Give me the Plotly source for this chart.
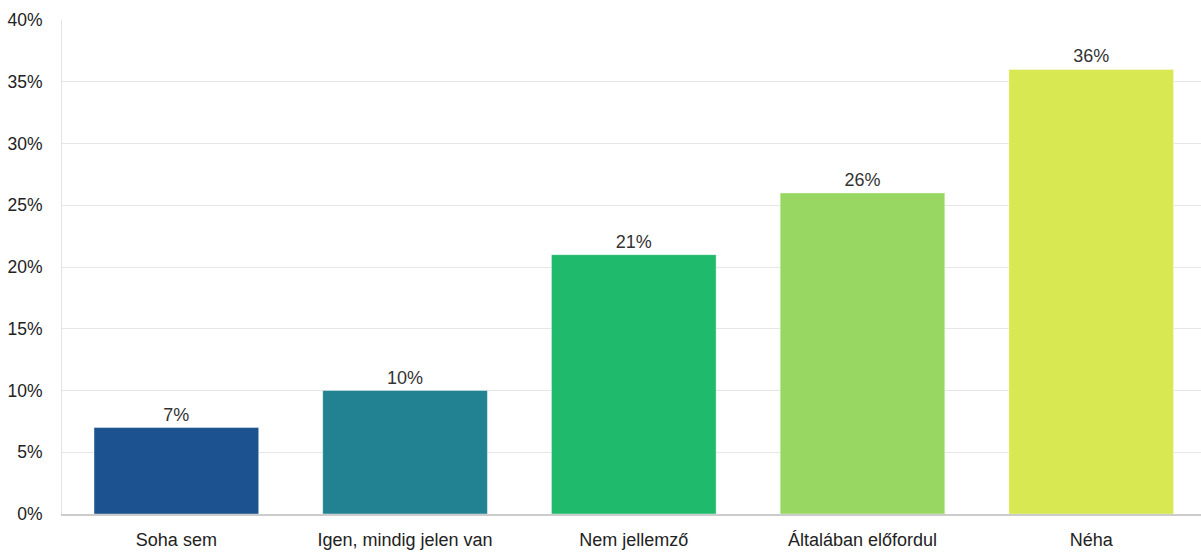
import plotly.graph_objects as go

categories = ["Soha sem", "Igen, mindig jelen van", "Nem jellemző", "Általában előfordul", "Néha"]
values = [7, 10, 21, 26, 36]
bar_colors = ["#1b528f", "#238292", "#1fba6c", "#98d862", "#d8e852"]
labels = [f"{v}%" for v in values]
y_ticks = [0, 5, 10, 15, 20, 25, 30, 35, 40]
y_tick_text = [f"{t}%" for t in y_ticks]

fig = go.Figure(go.Bar(
    x=categories,
    y=values,
    marker=dict(color=bar_colors, line=dict(color="rgba(255,255,255,0.4)", width=1)),
    text=labels,
    textposition="outside",
    textfont=dict(family="Liberation Sans, Arial, sans-serif", size=18, color="#333333"),
    cliponaxis=False,
    width=0.72,
))

fig.update_layout(
    width=1201,
    height=552,
    margin=dict(l=62, r=0, t=20, b=38),
    paper_bgcolor="white",
    plot_bgcolor="white",
    showlegend=False,
    font=dict(family="Liberation Sans, Arial, sans-serif", size=17, color="#222222"),
)
fig.update_xaxes(
    range=[-0.5, 4.48],
    showgrid=False,
    showline=True,
    linecolor="#cccccc",
    linewidth=2,
    ticks="",
    ticklabelstandoff=8,
    tickfont=dict(size=18, color="#222222"),
)
fig.update_yaxes(
    range=[0, 40],
    tickvals=y_ticks,
    ticktext=y_tick_text,
    showgrid=True,
    gridcolor="#e6e6e6",
    gridwidth=1,
    zeroline=False,
    showline=True,
    linecolor="#e3e3e3",
    linewidth=1,
    ticks="",
    ticklabelstandoff=15,
    tickfont=dict(size=17.5, color="#222222"),
)

fig.write_html("out.html")
